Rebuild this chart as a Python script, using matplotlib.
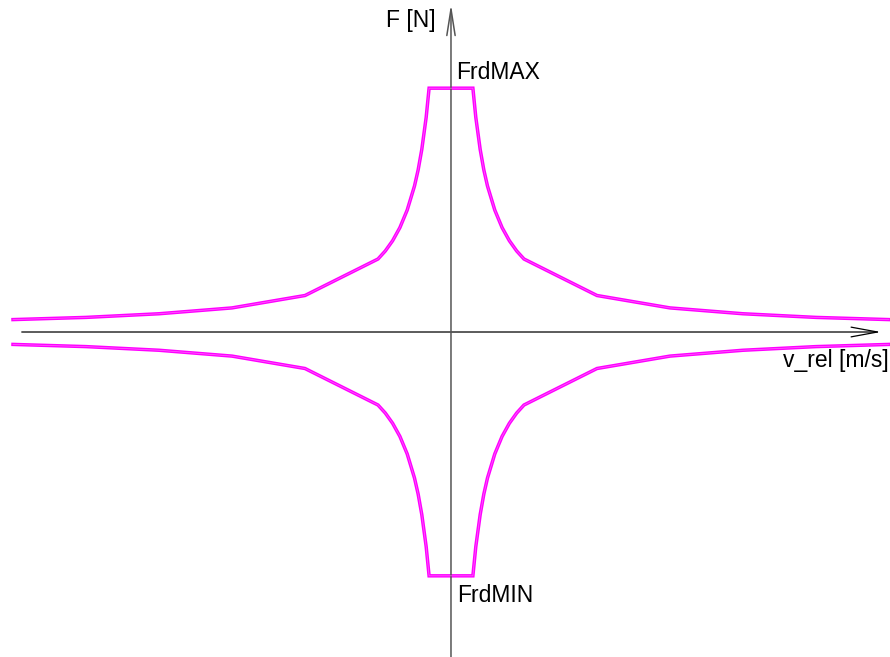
import matplotlib.pyplot as plt
import numpy as np

plt.rcParams['font.family'] = ['Liberation Sans', 'DejaVu Sans']

# damper force vs relative velocity (one branch, v > 0)
v_rel = [0.30, 0.34, 0.40, 0.45, 0.50, 0.60, 0.70, 0.80, 0.90, 1.0, 2.0, 3.0, 4.0, 5.0, 6.0]
f_rd = [3.34, 2.94, 2.50, 2.22, 2.00, 1.67, 1.43, 1.25, 1.11, 1.00, 0.50, 0.33, 0.25, 0.20, 0.17]

v_rel = np.array(v_rel)
f_rd = np.array(f_rd)

# mirror to negative velocities; top branch joins across FrdMAX
v_full = np.concatenate([-v_rel[::-1], v_rel])
f_full = np.concatenate([f_rd[::-1], f_rd])

fig = plt.figure(figsize=(8.9, 6.57), dpi=100)
ax = fig.add_axes([0, 0, 1, 1])
ax.set_xlim(-6.178, 6.014)
ax.set_ylim(-4.452, 4.548)
ax.axis('off')

for sign in (1, -1):
    ax.plot(v_full, sign * f_full, color='#ff00ff', lw=2.5, solid_joinstyle='miter', zorder=3)
    ax.plot(v_full, sign * f_full, color='#ff66ff', lw=0.5, zorder=4)

# axes with open arrow heads
ax.annotate('', xy=(5.89, 0), xytext=(-5.88, 0),
            arrowprops=dict(arrowstyle='->,head_length=1.9,head_width=0.35',
                            color='black', lw=0.9, shrinkA=0, shrinkB=0))
ax.annotate('', xy=(0, 4.49), xytext=(0, -4.46),
            arrowprops=dict(arrowstyle='->,head_length=1.9,head_width=0.3',
                            color='#555555', lw=1.1, shrinkA=0, shrinkB=0))

ax.text(-0.89, 4.18, 'F [N]', fontsize=16.5, va='baseline', ha='left')
ax.text(6.0, -0.48, 'v_rel [m/s]', fontsize=16.5, va='baseline', ha='right')
ax.text(0.07, f_rd[0] + 0.13, 'FrdMAX', fontsize=16.5, va='baseline', ha='left')
ax.text(0.08, -f_rd[0] - 0.36, 'FrdMIN', fontsize=16.5, va='baseline', ha='left')

fig.savefig('out.png', dpi=100)
